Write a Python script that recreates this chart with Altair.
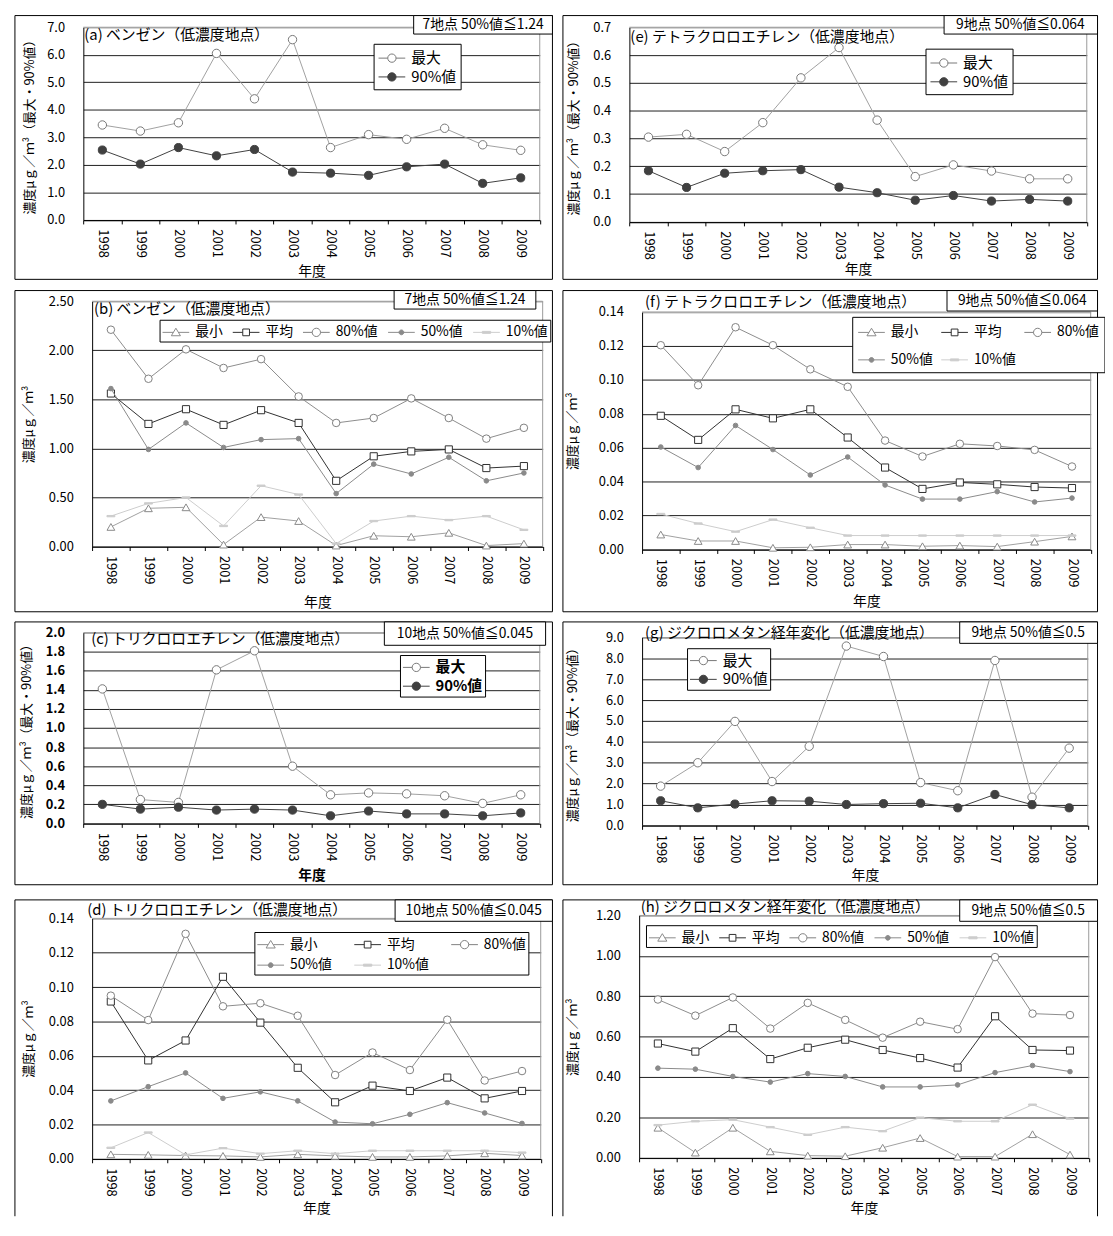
import altair as alt
import pandas as pd

FONT = "Noto Sans CJK JP"

YEARS = ["1998", "1999", "2000", "2001", "2002", "2003",
         "2004", "2005", "2006", "2007", "2008", "2009"]

# (a) benzene, max / 90%
A_MAX = [3.45, 3.23, 3.53, 6.05, 4.40, 6.55, 2.63, 3.10, 2.93, 3.33, 2.73, 2.53]
A_P90 = [2.54, 2.03, 2.63, 2.33, 2.56, 1.74, 1.70, 1.62, 1.93, 2.03, 1.33, 1.53]
# (e) tetrachloroethylene, max / 90%
E_MAX = [0.305, 0.315, 0.253, 0.357, 0.518, 0.627, 0.366, 0.163, 0.205, 0.183, 0.155, 0.155]
E_P90 = [0.184, 0.124, 0.175, 0.184, 0.188, 0.125, 0.105, 0.078, 0.095, 0.075, 0.081, 0.075]
# (c) trichloroethylene, max / 90%
C_MAX = [1.41, 0.25, 0.22, 1.61, 1.81, 0.60, 0.30, 0.32, 0.31, 0.29, 0.21, 0.30]
C_P90 = [0.20, 0.15, 0.17, 0.14, 0.15, 0.14, 0.08, 0.13, 0.10, 0.10, 0.08, 0.11]
# (g) dichloromethane, max / 90%
G_MAX = [1.88, 3.00, 4.98, 2.10, 3.79, 8.59, 8.09, 2.05, 1.66, 7.90, 1.35, 3.70]
G_P90 = [1.18, 0.84, 1.02, 1.18, 1.16, 1.00, 1.04, 1.06, 0.84, 1.48, 0.99, 0.84]
# (b) benzene
B_MIN = [0.20, 0.39, 0.40, 0.02, 0.30, 0.26, 0.01, 0.11, 0.10, 0.14, 0.01, 0.03]
B_MEAN = [1.56, 1.25, 1.40, 1.24, 1.39, 1.26, 0.67, 0.92, 0.97, 0.99, 0.80, 0.82]
B_P80 = [2.21, 1.71, 2.01, 1.82, 1.91, 1.53, 1.26, 1.31, 1.51, 1.31, 1.10, 1.21]
B_P50 = [1.61, 0.99, 1.26, 1.01, 1.09, 1.10, 0.54, 0.84, 0.74, 0.91, 0.67, 0.75]
B_P10 = [0.31, 0.44, 0.50, 0.21, 0.62, 0.53, 0.03, 0.26, 0.31, 0.27, 0.31, 0.17]
# (f) tetrachloroethylene
F_MIN = [0.0088, 0.0050, 0.0050, 0.0010, 0.0013, 0.0029, 0.0029, 0.0019, 0.0023, 0.0017, 0.0046, 0.0077]
F_MEAN = [0.0788, 0.0646, 0.0826, 0.0773, 0.0826, 0.0660, 0.0483, 0.0357, 0.0395, 0.0384, 0.0368, 0.0362]
F_P80 = [0.1204, 0.0968, 0.1310, 0.1204, 0.1062, 0.0959, 0.0642, 0.0548, 0.0623, 0.0610, 0.0587, 0.0489]
F_P50 = [0.0604, 0.0483, 0.0731, 0.0589, 0.0439, 0.0545, 0.0380, 0.0297, 0.0297, 0.0341, 0.0280, 0.0303]
F_P10 = [0.0209, 0.0153, 0.0105, 0.0176, 0.0128, 0.0082, 0.0082, 0.0082, 0.0082, 0.0082, 0.0082, 0.0082]
# (d) trichloroethylene
D_MIN = [0.0026, 0.0023, 0.0019, 0.0017, 0.0011, 0.0026, 0.0017, 0.0011, 0.0011, 0.0017, 0.0032, 0.0019]
D_MEAN = [0.0916, 0.0573, 0.0689, 0.1060, 0.0793, 0.0530, 0.0329, 0.0426, 0.0395, 0.0473, 0.0352, 0.0395]
D_P80 = [0.0950, 0.0808, 0.1310, 0.0888, 0.0906, 0.0833, 0.0488, 0.0619, 0.0517, 0.0810, 0.0456, 0.0511]
D_P50 = [0.0337, 0.0420, 0.0500, 0.0352, 0.0390, 0.0337, 0.0214, 0.0204, 0.0259, 0.0327, 0.0267, 0.0206]
D_P10 = [0.0064, 0.0153, 0.0023, 0.0062, 0.0030, 0.0047, 0.0030, 0.0047, 0.0047, 0.0047, 0.0047, 0.0036]
# (h) dichloromethane
H_MIN = [0.149, 0.026, 0.149, 0.032, 0.011, 0.008, 0.050, 0.098, 0.006, 0.006, 0.117, 0.016]
H_MEAN = [0.566, 0.526, 0.642, 0.489, 0.545, 0.585, 0.534, 0.494, 0.447, 0.701, 0.534, 0.531]
H_P80 = [0.784, 0.704, 0.794, 0.640, 0.767, 0.683, 0.595, 0.674, 0.637, 0.994, 0.714, 0.707]
H_P50 = [0.444, 0.439, 0.403, 0.375, 0.417, 0.403, 0.351, 0.351, 0.361, 0.422, 0.457, 0.427]
H_P10 = [0.162, 0.181, 0.189, 0.152, 0.114, 0.152, 0.132, 0.199, 0.181, 0.181, 0.263, 0.194]

TICKS_A = [0, 1, 2, 3, 4, 5, 6, 7]
TICKS_E = [0, 0.1, 0.2, 0.3, 0.4, 0.5, 0.6, 0.7]
TICKS_B = [0, 0.5, 1.0, 1.5, 2.0, 2.5]
TICKS_F = [0, 0.02, 0.04, 0.06, 0.08, 0.10, 0.12, 0.14]
TICKS_C = [0, 0.2, 0.4, 0.6, 0.8, 1.0, 1.2, 1.4, 1.6, 1.8, 2.0]
TICKS_G = [0, 1, 2, 3, 4, 5, 6, 7, 8, 9]
TICKS_D = [0, 0.02, 0.04, 0.06, 0.08, 0.10, 0.12, 0.14]
TICKS_H = [0, 0.2, 0.4, 0.6, 0.8, 1.0, 1.2]

YT_MAX = "濃度μｇ／ｍ³（最大・90%値）"
YT_CONC = "濃度μｇ／ｍ³"

# legend symbol paths (line + marker); unit = 10 px with symbol size 400
P_OPEN = "M-1.35,0H-0.42M0.42,0H1.35M0.42,0A0.42,0.42,0,1,1,-0.42,0A0.42,0.42,0,1,1,0.42,0Z"
P_FILL = "M-1.35,0H1.35M0.42,0A0.42,0.42,0,1,1,-0.42,0A0.42,0.42,0,1,1,0.42,0Z"
P_TRI = "M-1.35,0H-0.26M0.26,0H1.35M0,-0.42L0.46,0.34H-0.46Z"
P_SQ = "M-1.35,0H-0.34M0.34,0H1.35M-0.34,-0.34H0.34V0.34H-0.34Z"
P_DOT = "M-1.35,0H1.35M0.24,0A0.24,0.24,0,1,1,-0.24,0A0.24,0.24,0,1,1,0.24,0Z"
P_DASH = "M-1.35,0H1.35M-0.42,-0.1H0.42V0.1H-0.42Z"
DASH_MARK = "M-1,-0.17H1V0.17H-1Z"

STYLE = {
    "最大": dict(line="#a0a0a0", shape="circle", fill="#ffffff", stroke="#777777", size=72, lpath=P_OPEN),
    "90%値": dict(line="#404040", shape="circle", fill="#404040", stroke="#404040", size=68, lpath=P_FILL),
    "最小": dict(line="#a0a0a0", shape="triangle-up", fill="#ffffff", stroke="#8a8a8a", size=62, lpath=P_TRI),
    "平均": dict(line="#303030", shape="square", fill="#ffffff", stroke="#303030", size=52, lpath=P_SQ),
    "80%値": dict(line="#8c8c8c", shape="circle", fill="#ffffff", stroke="#7f7f7f", size=58, lpath=P_OPEN),
    "50%値": dict(line="#8a8a8a", shape="circle", fill="#8a8a8a", stroke="#8a8a8a", size=22, lpath=P_DOT),
    "10%値": dict(line="#cccccc", shape=DASH_MARK, fill="#cccccc", stroke="#cccccc", size=64, lpath=P_DASH),
}

ONE = pd.DataFrame({"k": [0]})

# reference-picture geometry (pixels) mapped onto the page with a slight squeeze
SX, SY = 0.988, 0.984
COL_REF = {"L": (4, 554, 564), "R": (564, 1111, 1112)}       # frame left, frame right, next cell start
ROW_REF = [(4, 275, 286), (286, 616, 626), (626, 896, 911), (911, None, 1236)]


def long_table(series):
    rows = []
    for name, vals in series:
        for yr, v in zip(YEARS, vals):
            rows.append({"year": yr, "series": name, "value": v})
    return pd.DataFrame(rows)


PANELS = {
    "a": dict(series=[("最大", A_MAX), ("90%値", A_P90)], plot=(74, 541, 16, 214), ticks=TICKS_A, fmt=".1f",
              ytitle=YT_MAX, ytx=19, xty=267, title="(a)  ベンゼン（低濃度地点）", tpos=(75, 24),
              note="7地点 50%値≦1.24", box=(412, 554, 4, 23), npos=(483, 13.5),
              leg=dict(x=371, y=33, cols=1, rp=0, cp=10, pad=4, fs=15, ga="each")),
    "e": dict(series=[("最大", E_MAX), ("90%値", E_P90)], plot=(632, 1100, 16, 216), ticks=TICKS_E, fmt=".1f",
              ytitle=YT_MAX, ytx=575, xty=265, title="(e)  テトラクロロエチレン（低濃度地点）", tpos=(633, 26),
              note="9地点 50%値≦0.064", box=(954, 1111, 4, 23), npos=(1032, 13.5),
              leg=dict(x=935, y=38, cols=1, rp=0, cp=10, pad=4, fs=15, ga="each")),
    "b": dict(series=[("最小", B_MIN), ("平均", B_MEAN), ("80%値", B_P80), ("50%値", B_P50), ("10%値", B_P10)],
              plot=(83, 544, 297, 549), ticks=TICKS_B, fmt=".2f",
              ytitle=YT_CONC, ytx=18, xty=607, title="(b) ベンゼン（低濃度地点）", tpos=(85, 305),
              note="7地点 50%値≦1.24", box=(392, 537, 286, 305), npos=(464.5, 296),
              leg=dict(x=152, y=316, cols=5, rp=0, cp=8, pad=2, fs=14, ga="each")),
    "f": dict(series=[("最小", F_MIN), ("平均", F_MEAN), ("80%値", F_P80), ("50%値", F_P50), ("10%値", F_P10)],
              plot=(645, 1104, 308, 552), ticks=TICKS_F, fmt=".2f",
              ytitle=YT_CONC, ytx=574, xty=605, title="(f)  テトラクロロエチレン（低濃度地点）", tpos=(648, 298),
              note="9地点 50%値≦0.064", box=(957, 1111, 286, 307), npos=(1034, 296.5),
              leg=dict(x=860, y=313, cols=3, rp=10, cp=6, pad=5, fs=14, ga="all")),
    "c": dict(series=[("最大", C_MAX), ("90%値", C_P90)], plot=(74, 541, 637, 833), ticks=TICKS_C, fmt=".1f",
              ytitle=YT_MAX, ytx=16, xty=887, title="(c) トリクロロエチレン（低濃度地点）", tpos=(82, 644),
              note="10地点 50%値≦0.045", box=(382, 547, 626, 650), npos=(464.5, 638), bold=True,
              leg=dict(x=398, y=660, cols=1, rp=0, cp=10, pad=2, fs=15, ga="each")),
    "g": dict(series=[("最大", G_MAX), ("90%値", G_P90)], plot=(645, 1101, 642, 835), ticks=TICKS_G, fmt=".1f",
              ytitle=YT_MAX, ytx=574, xty=887, title="(g) ジクロロメタン経年変化（低濃度地点）", tpos=(648, 637),
              note="9地点 50%値≦0.5", box=(970, 1111, 626, 648), npos=(1040, 637),
              leg=dict(x=691, y=653, cols=1, rp=0, cp=10, pad=2, fs=15, ga="each")),
    "d": dict(series=[("最小", D_MIN), ("平均", D_MEAN), ("80%値", D_P80), ("50%値", D_P50), ("10%値", D_P10)],
              plot=(83, 542, 930, 1177), ticks=TICKS_D, fmt=".2f",
              ytitle=YT_CONC, ytx=18, xty=1228, title="(d)  トリクロロエチレン（低濃度地点）", tpos=(78, 921),
              note="10地点 50%値≦0.045", box=(393, 554, 911, 933), npos=(473.5, 922),
              leg=dict(x=249, y=944, cols=3, rp=3, cp=20, pad=2, fs=14, ga="all")),
    "h": dict(series=[("最小", H_MIN), ("平均", H_MEAN), ("80%値", H_P80), ("50%値", H_P50), ("10%値", H_P10)],
              plot=(642, 1102, 927, 1176), ticks=TICKS_H, fmt=".2f",
              ytitle=YT_CONC, ytx=574, xty=1228, title="(h)  ジクロロメタン経年変化（低濃度地点）", tpos=(643.5, 918),
              note="9地点 50%値≦0.5", box=(970, 1111, 911, 933), npos=(1040, 922),
              leg=dict(x=649, y=937, cols=5, rp=0, cp=8, pad=2, fs=14, ga="each")),
}


def make_panel(p, col, row):
    cl, cr, cn = COL_REF[col]
    rt, rb, rn = row
    rx = lambda v: (v - cl) * SX
    ry = lambda v: (v - rt) * SY
    vw, vh = rx(cn), ry(rn)
    fw = rx(cr)
    fh = ry(rb) if rb is not None else None

    X0, X1, Y0, Y1 = p["plot"]
    x0, x1, y0, y1 = rx(X0), rx(X1), ry(Y0), ry(Y1)
    df = long_table(p["series"])
    names = [s for s, _ in p["series"]]
    ymax = p["ticks"][-1]
    bold = "bold" if p.get("bold") else "normal"

    x_enc = alt.X("year:O", sort=YEARS,
                  scale=alt.Scale(type="band", domain=YEARS, paddingInner=0, paddingOuter=0, range=[x0, x1]),
                  axis=alt.Axis(title="年度", labelAngle=90, tickBand="extent", ticks=True, tickSize=4,
                                tickColor="black", domainColor="black", labelColor="black",
                                labelFont=FONT, labelFontSize=13, labelPadding=5, grid=False,
                                offset=y1 - vh,
                                titleFont=FONT, titleFontSize=14, titleFontWeight=bold,
                                titleColor="black", titleX=(x0 + x1) / 2, titleY=ry(p["xty"]) - y1,
                                titleAlign="center", titleBaseline="middle"))
    y_enc = alt.Y("value:Q", scale=alt.Scale(domain=[0, ymax], nice=False, zero=True, range=[y1, y0]),
                  axis=alt.Axis(values=p["ticks"], format=p["fmt"], title=p["ytitle"], offset=-x0,
                                titleX=rx(p["ytx"]) - x0, titleY=(y0 + y1) / 2, titleAngle=270,
                                titleAlign="center", titleBaseline="middle", titleFont=FONT, titleFontSize=13,
                                titleFontWeight="normal", titleColor="black",
                                labelFont=FONT, labelFontSize=13, labelColor="black",
                                labelFontWeight=bold, labelPadding=19, ticks=False,
                                domainColor="black", grid=True, gridWidth=1,
                                gridColor={"condition": {"test": f"datum.value >= {ymax * 0.999}",
                                                         "value": "#9a9a9a"},
                                           "value": "#1e1e1e"}))

    bottom = fh if fh is not None else vh
    layers = [
        alt.Chart(ONE).mark_rule(color="black", strokeWidth=1).encode(
            x=alt.value(0), x2=alt.value(fw), y=alt.value(0)),
        alt.Chart(ONE).mark_rule(color="black", strokeWidth=1).encode(
            x=alt.value(0), y=alt.value(0), y2=alt.value(bottom)),
        alt.Chart(ONE).mark_rule(color="black", strokeWidth=1).encode(
            x=alt.value(fw), y=alt.value(0), y2=alt.value(bottom)),
        alt.Chart(ONE).mark_rule(color="#9a9a9a", strokeWidth=1).encode(
            x=alt.value(x0), x2=alt.value(x1), y=alt.value(y0)),
        alt.Chart(ONE).mark_rule(color="#9a9a9a", strokeWidth=1).encode(
            x=alt.value(x1), y=alt.value(y0), y2=alt.value(y1)),
    ]
    if fh is not None:
        layers.append(alt.Chart(ONE).mark_rule(color="black", strokeWidth=1).encode(
            x=alt.value(0), x2=alt.value(fw), y=alt.value(fh)))

    for s in names:
        st = STYLE[s]
        sub = alt.Chart(df).transform_filter(f"datum.series == '{s}'")
        layers.append(sub.mark_line(color=st["line"], strokeWidth=1).encode(x=x_enc, y=y_enc))
        layers.append(sub.mark_point(shape=st["shape"], filled=True, fill=st["fill"], stroke=st["stroke"],
                                     strokeWidth=1, size=st["size"], opacity=1).encode(x=x_enc, y=y_enc))

    bx1, bx2, by1, by2 = p["box"]
    layers.append(alt.Chart(ONE).mark_rect(fill="white", stroke="black", strokeWidth=1).encode(
        x=alt.value(rx(bx1)), x2=alt.value(min(rx(bx2), fw)), y=alt.value(max(ry(by1), 0)),
        y2=alt.value(ry(by2))))
    layers.append(alt.Chart(ONE).mark_text(text=p["note"], font=FONT, fontSize=14, color="black",
                                           align="center", baseline="middle").encode(
        x=alt.value(rx(p["npos"][0])), y=alt.value(ry(p["npos"][1]))))
    layers.append(alt.Chart(ONE).mark_text(text=p["title"], font=FONT, fontSize=15, color="black",
                                           align="left", baseline="middle").encode(
        x=alt.value(rx(p["tpos"][0])), y=alt.value(ry(p["tpos"][1]))))

    lg = p["leg"]
    leg = alt.Legend(title=None, orient="none", legendX=rx(lg["x"]), legendY=ry(lg["y"]),
                     direction="horizontal",
                     columns=lg["cols"], strokeColor="black", fillColor="white",
                     padding=lg["pad"], labelFont=FONT, labelFontSize=lg["fs"], labelFontWeight=bold,
                     labelColor="black", labelOffset=9, symbolOffset=4, symbolSize=400,
                     symbolStrokeWidth=1, symbolOpacity=1, columnPadding=lg["cp"], rowPadding=lg["rp"],
                     gridAlign=lg["ga"], labelLimit=200)
    layers.append(alt.Chart(df).transform_filter("false").mark_point(size=400, opacity=1).encode(
        shape=alt.Shape("series:N", scale=alt.Scale(domain=names, range=[STYLE[s]["lpath"] for s in names]),
                        legend=leg),
        stroke=alt.Stroke("series:N", scale=alt.Scale(domain=names, range=[STYLE[s]["stroke"] for s in names]),
                          legend=leg),
        fill=alt.Fill("series:N", scale=alt.Scale(domain=names, range=[STYLE[s]["fill"] for s in names]),
                      legend=leg),
    ))
    return alt.layer(*layers).properties(width=vw, height=vh)


cells = []
order = [("a", "e"), ("b", "f"), ("c", "g"), ("d", "h")]
for row, (left, right) in zip(ROW_REF, order):
    cells.append(make_panel(PANELS[left], "L", row))
    cells.append(make_panel(PANELS[right], "R", row))

chart = alt.concat(*cells, columns=2, spacing=0).properties(
    padding=0, background="white", bounds="flush", align="each"
).resolve_scale(
    shape="independent", stroke="independent", fill="independent"
).resolve_legend(
    shape="independent", stroke="independent", fill="independent"
).configure_view(strokeWidth=0).configure_legend(strokeWidth=1)

chart.save("out.html", embed_options={"renderer": "svg", "actions": False})
